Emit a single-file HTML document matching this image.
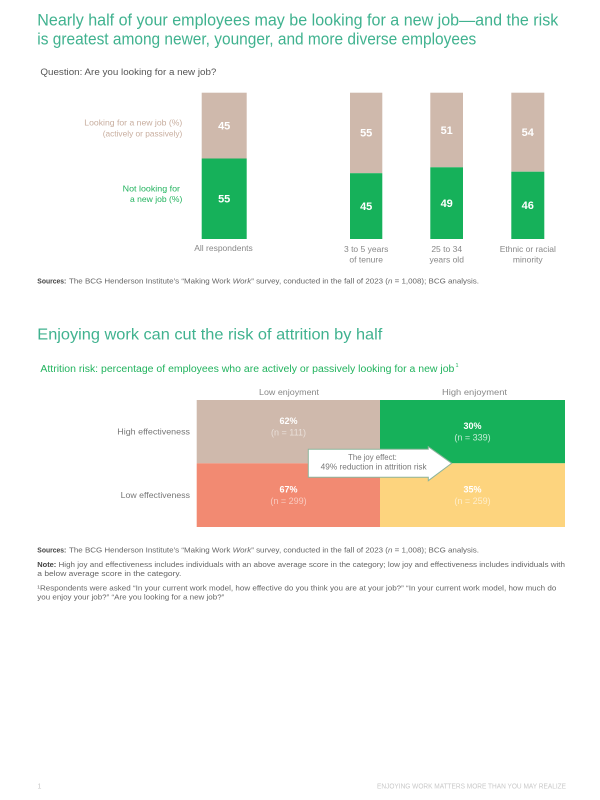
<!DOCTYPE html>
<html>
<head>
<meta charset="utf-8">
<style>
html,body{margin:0;padding:0;background:#fff;}
svg{display:block;}
text{font-family:"Liberation Sans",sans-serif;}
</style>
</head>
<body>
<svg width="600" height="800" viewBox="0 0 600 800" xmlns="http://www.w3.org/2000/svg">
<rect width="600" height="800" fill="#fff"/>

<!-- Title 1 -->
<text x="37.3" y="25.5" font-size="17" fill="#40b28f" textLength="521" lengthAdjust="spacingAndGlyphs">Nearly half of your employees may be looking for a new job—and the risk</text>
<text x="37.3" y="44.5" font-size="17" fill="#40b28f" textLength="439" lengthAdjust="spacingAndGlyphs">is greatest among newer, younger, and more diverse employees</text>

<text x="40.4" y="75" font-size="9" fill="#555" textLength="176" lengthAdjust="spacingAndGlyphs">Question: Are you looking for a new job?</text>

<!-- Left labels -->
<text x="182.3" y="125.3" font-size="8.5" fill="#c8ae9f" text-anchor="end" textLength="98" lengthAdjust="spacingAndGlyphs">Looking for a new job (%)</text>
<text x="182.3" y="136.3" font-size="8.5" fill="#c8ae9f" text-anchor="end" textLength="79.6" lengthAdjust="spacingAndGlyphs">(actively or passively)</text>
<text x="180" y="191.7" font-size="8.5" fill="#22b35e" text-anchor="end" textLength="57.3" lengthAdjust="spacingAndGlyphs">Not looking for</text>
<text x="182.3" y="202" font-size="8.5" fill="#22b35e" text-anchor="end" textLength="52.3" lengthAdjust="spacingAndGlyphs">a new job (%)</text>

<!-- Bars -->
<rect x="201.7" y="92.7" width="45" height="65.8" fill="#cfb9ac"/>
<rect x="201.7" y="158.5" width="45" height="80.5" fill="#16b15a"/>
<rect x="350" y="92.7" width="32.3" height="80.5" fill="#cfb9ac"/>
<rect x="350" y="173.2" width="32.3" height="65.8" fill="#16b15a"/>
<rect x="430.3" y="92.7" width="32.7" height="74.6" fill="#cfb9ac"/>
<rect x="430.3" y="167.3" width="32.7" height="71.7" fill="#16b15a"/>
<rect x="511.3" y="92.7" width="33" height="79" fill="#cfb9ac"/>
<rect x="511.3" y="171.7" width="33" height="67.3" fill="#16b15a"/>

<g font-size="11" font-weight="bold" fill="#fff" text-anchor="middle">
<text x="224.2" y="129.3">45</text>
<text x="224.2" y="202.7">55</text>
<text x="366.2" y="136.7">55</text>
<text x="366.2" y="210">45</text>
<text x="446.7" y="134">51</text>
<text x="446.7" y="207">49</text>
<text x="527.8" y="136">54</text>
<text x="527.8" y="209">46</text>
</g>

<g font-size="8.5" fill="#888" text-anchor="middle">
<text x="223.5" y="251">All respondents</text>
<text x="366.2" y="252">3 to 5 years</text>
<text x="366.2" y="262.3">of tenure</text>
<text x="446.7" y="252">25 to 34</text>
<text x="446.7" y="262.3">years old</text>
<text x="527.8" y="252">Ethnic or racial</text>
<text x="527.8" y="262.3">minority</text>
</g>

<!-- Sources 1 -->
<text x="37.3" y="283.5" font-size="7.2" fill="#444" font-weight="bold" textLength="29" lengthAdjust="spacingAndGlyphs">Sources:</text>
<text x="69" y="283.5" font-size="7.2" fill="#666" textLength="410" lengthAdjust="spacingAndGlyphs">The BCG Henderson Institute’s “Making Work <tspan font-style="italic">Work</tspan>” survey, conducted in the fall of 2023 (<tspan font-style="italic">n</tspan> = 1,008); BCG analysis.</text>

<!-- Title 2 -->
<text x="37.3" y="339.5" font-size="16" fill="#40b28f" textLength="345" lengthAdjust="spacingAndGlyphs">Enjoying work can cut the risk of attrition by half</text>

<text x="40.4" y="372" font-size="10" fill="#22b35e" textLength="414" lengthAdjust="spacingAndGlyphs">Attrition risk: percentage of employees who are actively or passively looking for a new job</text>
<text x="455.5" y="367" font-size="5.5" fill="#22b35e">1</text>

<!-- Column headers -->
<text x="289" y="395" font-size="8.5" fill="#888" text-anchor="middle" textLength="60" lengthAdjust="spacingAndGlyphs">Low enjoyment</text>
<text x="474.5" y="395" font-size="8.5" fill="#888" text-anchor="middle" textLength="65" lengthAdjust="spacingAndGlyphs">High enjoyment</text>

<!-- Grid -->
<rect x="196.7" y="400" width="183.3" height="63.3" fill="#cfb9ac"/>
<rect x="380" y="400" width="185" height="63.3" fill="#16b15a"/>
<rect x="196.7" y="463.3" width="183.3" height="63.7" fill="#f28a72"/>
<rect x="380" y="463.3" width="185" height="63.7" fill="#fdd47e"/>

<text x="190" y="434.7" font-size="8.5" fill="#777" text-anchor="end" textLength="72.7" lengthAdjust="spacingAndGlyphs">High effectiveness</text>
<text x="190" y="498" font-size="8.5" fill="#777" text-anchor="end" textLength="69.3" lengthAdjust="spacingAndGlyphs">Low effectiveness</text>

<g text-anchor="middle" font-size="9">
<text x="288.5" y="424.2" font-weight="bold" fill="#fff">62%</text>
<text x="288.5" y="435.5" fill="#fff" fill-opacity="0.55">(n = 111)</text>
<text x="288.5" y="492.5" font-weight="bold" fill="#fff">67%</text>
<text x="288.5" y="504" fill="#fff" fill-opacity="0.55">(n = 299)</text>
<text x="472.5" y="429" font-weight="bold" fill="#fff">30%</text>
<text x="472.5" y="440.5" fill="#fff" fill-opacity="0.75">(n = 339)</text>
<text x="472.5" y="492.5" font-weight="bold" fill="#fff">35%</text>
<text x="472.5" y="504" fill="#fff" fill-opacity="0.6">(n = 259)</text>
</g>

<!-- Arrow -->
<polygon points="308.3,449.3 428.3,449.3 428.3,446.7 451.7,463.3 428.3,480.7 428.3,477.3 308.3,477.3" fill="#fff" stroke="#8db59c" stroke-width="1"/>
<text x="372.5" y="460" font-size="8" fill="#777" text-anchor="middle" textLength="48.7" lengthAdjust="spacingAndGlyphs">The joy effect:</text>
<text x="373.7" y="469.5" font-size="8" fill="#777" text-anchor="middle" textLength="106" lengthAdjust="spacingAndGlyphs">49% reduction in attrition risk</text>

<!-- Footnotes -->
<text x="37.3" y="552.5" font-size="7.2" fill="#444" font-weight="bold" textLength="29" lengthAdjust="spacingAndGlyphs">Sources:</text>
<text x="69" y="552.5" font-size="7.2" fill="#666" textLength="410" lengthAdjust="spacingAndGlyphs">The BCG Henderson Institute’s “Making Work <tspan font-style="italic">Work</tspan>” survey, conducted in the fall of 2023 (<tspan font-style="italic">n</tspan> = 1,008); BCG analysis.</text>

<text x="37.3" y="566.8" font-size="7.2" fill="#444" font-weight="bold" textLength="19" lengthAdjust="spacingAndGlyphs">Note:</text>
<text x="58.5" y="566.8" font-size="7.2" fill="#666" textLength="506.5" lengthAdjust="spacingAndGlyphs">High joy and effectiveness includes individuals with an above average score in the category; low joy and effectiveness includes individuals with</text>
<text x="37.3" y="576" font-size="7.2" fill="#666" textLength="144" lengthAdjust="spacingAndGlyphs">a below average score in the category.</text>

<text x="37.3" y="590.3" font-size="7.2" fill="#666" textLength="519" lengthAdjust="spacingAndGlyphs">¹Respondents were asked “In your current work model, how effective do you think you are at your job?” “In your current work model, how much do</text>
<text x="37.3" y="599.5" font-size="7.2" fill="#666" textLength="187" lengthAdjust="spacingAndGlyphs">you enjoy your job?” “Are you looking for a new job?”</text>

<!-- Footer -->
<text x="37.5" y="788.5" font-size="7" fill="#c8c8c8">1</text>
<text x="566" y="788.5" font-size="7" fill="#c8c8c8" text-anchor="end" textLength="189" lengthAdjust="spacingAndGlyphs">ENJOYING WORK MATTERS MORE THAN YOU MAY REALIZE</text>
</svg>
</body>
</html>
